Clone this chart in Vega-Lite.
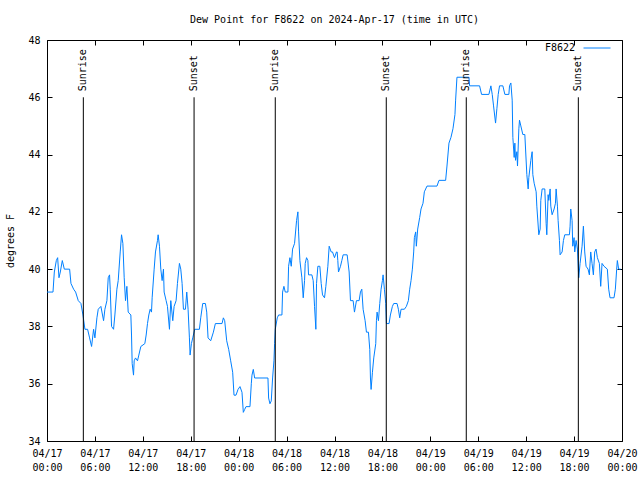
{
"$schema":"https://vega.github.io/schema/vega-lite/v6.json",
"width":575,"height":401,
"autosize":"none",
"padding":{"left":47,"top":40,"right":18,"bottom":39},
"background":"white",
"title":{"text":"Dew Point for F8622 on 2024-Apr-17 (time in UTC)","font":"DejaVu Sans Mono","fontSize":10,"fontWeight":"normal","color":"black","anchor":"middle","offset":9},
"config":{"view":{"stroke":null},"font":"DejaVu Sans Mono",
 "axis":{"grid":false,"domainColor":"black","tickColor":"black","labelColor":"black","labelFont":"DejaVu Sans Mono","labelFontSize":10,"titleFont":"DejaVu Sans Mono","titleFontSize":10,"titleFontWeight":"normal","titleColor":"black"}},
"resolve":{"axis":{"x":"independent","y":"independent"}},
"layer":[
{"data":{"values":[
{"t":"2024-04-17T00:00Z","v":39.2},{"t":"2024-04-17T00:45Z","v":39.2},{"t":"2024-04-17T00:55Z","v":39.9},{"t":"2024-04-17T01:10Z","v":40.3},{"t":"2024-04-17T01:20Z","v":40.4},{"t":"2024-04-17T01:30Z","v":39.7},{"t":"2024-04-17T01:40Z","v":39.9},{"t":"2024-04-17T01:55Z","v":40.3},{"t":"2024-04-17T02:10Z","v":40.0},{"t":"2024-04-17T02:50Z","v":40.0},
{"t":"2024-04-17T03:00Z","v":39.5},{"t":"2024-04-17T03:20Z","v":39.3},{"t":"2024-04-17T03:35Z","v":39.2},{"t":"2024-04-17T03:55Z","v":38.9},{"t":"2024-04-17T04:15Z","v":38.8},{"t":"2024-04-17T04:30Z","v":38.4},{"t":"2024-04-17T04:45Z","v":37.9},{"t":"2024-04-17T05:05Z","v":37.9},{"t":"2024-04-17T05:20Z","v":37.6},{"t":"2024-04-17T05:35Z","v":37.3},
{"t":"2024-04-17T05:50Z","v":37.9},{"t":"2024-04-17T06:00Z","v":37.6},{"t":"2024-04-17T06:15Z","v":38.3},{"t":"2024-04-17T06:25Z","v":38.6},{"t":"2024-04-17T06:45Z","v":38.7},{"t":"2024-04-17T07:05Z","v":38.2},{"t":"2024-04-17T07:15Z","v":38.6},{"t":"2024-04-17T07:30Z","v":38.9},{"t":"2024-04-17T07:40Z","v":39.7},{"t":"2024-04-17T07:50Z","v":39.8},
{"t":"2024-04-17T07:55Z","v":39.3},{"t":"2024-04-17T08:05Z","v":38.0},{"t":"2024-04-17T08:20Z","v":37.9},{"t":"2024-04-17T08:30Z","v":38.4},{"t":"2024-04-17T08:45Z","v":39.3},{"t":"2024-04-17T08:55Z","v":39.6},{"t":"2024-04-17T09:10Z","v":40.6},{"t":"2024-04-17T09:20Z","v":41.2},{"t":"2024-04-17T09:30Z","v":40.9},{"t":"2024-04-17T09:40Z","v":39.7},
{"t":"2024-04-17T09:50Z","v":38.9},{"t":"2024-04-17T10:00Z","v":39.4},{"t":"2024-04-17T10:10Z","v":38.5},{"t":"2024-04-17T10:30Z","v":38.4},{"t":"2024-04-17T10:35Z","v":37.7},{"t":"2024-04-17T10:40Z","v":36.7},{"t":"2024-04-17T10:50Z","v":36.3},{"t":"2024-04-17T10:55Z","v":36.8},{"t":"2024-04-17T11:05Z","v":36.9},{"t":"2024-04-17T11:20Z","v":36.8},
{"t":"2024-04-17T11:30Z","v":37.0},{"t":"2024-04-17T11:45Z","v":37.3},{"t":"2024-04-17T12:15Z","v":37.4},{"t":"2024-04-17T12:25Z","v":37.7},{"t":"2024-04-17T12:35Z","v":38.1},{"t":"2024-04-17T12:45Z","v":38.4},{"t":"2024-04-17T12:55Z","v":38.6},{"t":"2024-04-17T13:05Z","v":38.5},{"t":"2024-04-17T13:10Z","v":39.0},{"t":"2024-04-17T13:25Z","v":40.0},
{"t":"2024-04-17T13:35Z","v":40.6},{"t":"2024-04-17T13:50Z","v":41.0},{"t":"2024-04-17T13:55Z","v":41.2},{"t":"2024-04-17T14:05Z","v":40.8},{"t":"2024-04-17T14:15Z","v":40.0},{"t":"2024-04-17T14:25Z","v":39.6},{"t":"2024-04-17T14:35Z","v":40.0},{"t":"2024-04-17T14:40Z","v":39.2},{"t":"2024-04-17T14:55Z","v":38.9},{"t":"2024-04-17T15:05Z","v":38.7},
{"t":"2024-04-17T15:20Z","v":37.9},{"t":"2024-04-17T15:30Z","v":38.9},{"t":"2024-04-17T15:45Z","v":38.2},{"t":"2024-04-17T15:55Z","v":38.7},{"t":"2024-04-17T16:10Z","v":38.9},{"t":"2024-04-17T16:20Z","v":39.5},{"t":"2024-04-17T16:35Z","v":40.2},{"t":"2024-04-17T16:45Z","v":40.0},{"t":"2024-04-17T16:55Z","v":39.5},{"t":"2024-04-17T17:05Z","v":38.6},
{"t":"2024-04-17T17:20Z","v":38.6},{"t":"2024-04-17T17:30Z","v":39.2},{"t":"2024-04-17T17:40Z","v":38.6},{"t":"2024-04-17T17:50Z","v":37.6},{"t":"2024-04-17T17:55Z","v":37.0},{"t":"2024-04-17T18:05Z","v":37.4},{"t":"2024-04-17T18:15Z","v":37.6},{"t":"2024-04-17T18:30Z","v":37.9},{"t":"2024-04-17T19:05Z","v":37.9},{"t":"2024-04-17T19:15Z","v":38.3},
{"t":"2024-04-17T19:30Z","v":38.8},{"t":"2024-04-17T19:50Z","v":38.8},{"t":"2024-04-17T20:00Z","v":38.5},{"t":"2024-04-17T20:10Z","v":37.6},{"t":"2024-04-17T20:30Z","v":37.5},{"t":"2024-04-17T20:50Z","v":37.8},{"t":"2024-04-17T21:05Z","v":38.1},{"t":"2024-04-17T21:55Z","v":38.1},{"t":"2024-04-17T22:05Z","v":38.3},{"t":"2024-04-17T22:15Z","v":38.2},
{"t":"2024-04-17T22:30Z","v":37.5},{"t":"2024-04-17T22:45Z","v":37.2},{"t":"2024-04-17T23:00Z","v":36.8},{"t":"2024-04-17T23:15Z","v":36.4},{"t":"2024-04-17T23:25Z","v":35.6},{"t":"2024-04-17T23:40Z","v":35.6},{"t":"2024-04-17T23:55Z","v":35.8},
{"t":"2024-04-18T00:10Z","v":35.9},{"t":"2024-04-18T00:25Z","v":35.7},{"t":"2024-04-18T00:35Z","v":35.0},{"t":"2024-04-18T00:45Z","v":35.1},{"t":"2024-04-18T00:55Z","v":35.2},{"t":"2024-04-18T01:25Z","v":35.2},{"t":"2024-04-18T01:35Z","v":36.0},{"t":"2024-04-18T01:40Z","v":36.3},{"t":"2024-04-18T01:50Z","v":36.5},{"t":"2024-04-18T02:00Z","v":36.2},
{"t":"2024-04-18T03:40Z","v":36.2},{"t":"2024-04-18T03:45Z","v":35.5},{"t":"2024-04-18T03:55Z","v":35.3},{"t":"2024-04-18T04:05Z","v":35.4},{"t":"2024-04-18T04:15Z","v":36.2},{"t":"2024-04-18T04:25Z","v":36.8},{"t":"2024-04-18T04:30Z","v":37.4},{"t":"2024-04-18T04:35Z","v":37.9},{"t":"2024-04-18T04:50Z","v":38.3},{"t":"2024-04-18T05:00Z","v":38.4},
{"t":"2024-04-18T05:25Z","v":38.4},{"t":"2024-04-18T05:30Z","v":39.2},{"t":"2024-04-18T05:40Z","v":39.4},{"t":"2024-04-18T05:50Z","v":39.2},{"t":"2024-04-18T06:10Z","v":39.2},{"t":"2024-04-18T06:15Z","v":40.1},{"t":"2024-04-18T06:25Z","v":40.4},{"t":"2024-04-18T06:35Z","v":40.1},{"t":"2024-04-18T06:45Z","v":40.7},{"t":"2024-04-18T07:00Z","v":40.9},
{"t":"2024-04-18T07:15Z","v":41.7},{"t":"2024-04-18T07:25Z","v":42.0},{"t":"2024-04-18T07:30Z","v":41.3},{"t":"2024-04-18T07:40Z","v":40.3},{"t":"2024-04-18T07:55Z","v":39.7},{"t":"2024-04-18T08:05Z","v":39.0},{"t":"2024-04-18T08:15Z","v":39.6},{"t":"2024-04-18T08:20Z","v":40.2},{"t":"2024-04-18T08:30Z","v":40.4},{"t":"2024-04-18T08:40Z","v":40.3},
{"t":"2024-04-18T08:45Z","v":39.8},{"t":"2024-04-18T09:10Z","v":39.8},{"t":"2024-04-18T09:20Z","v":39.6},{"t":"2024-04-18T09:30Z","v":38.7},{"t":"2024-04-18T09:40Z","v":37.9},{"t":"2024-04-18T09:45Z","v":39.5},{"t":"2024-04-18T09:55Z","v":40.1},{"t":"2024-04-18T10:10Z","v":40.1},{"t":"2024-04-18T10:20Z","v":39.5},{"t":"2024-04-18T10:30Z","v":39.1},
{"t":"2024-04-18T10:45Z","v":39.0},{"t":"2024-04-18T10:55Z","v":39.4},{"t":"2024-04-18T11:10Z","v":40.1},{"t":"2024-04-18T11:20Z","v":40.8},{"t":"2024-04-18T11:35Z","v":40.6},{"t":"2024-04-18T11:45Z","v":40.6},{"t":"2024-04-18T12:00Z","v":40.4},{"t":"2024-04-18T12:15Z","v":40.6},{"t":"2024-04-18T12:20Z","v":40.6},{"t":"2024-04-18T12:25Z","v":40.3},
{"t":"2024-04-18T12:30Z","v":39.9},{"t":"2024-04-18T12:45Z","v":40.1},{"t":"2024-04-18T12:55Z","v":40.3},{"t":"2024-04-18T13:05Z","v":40.5},{"t":"2024-04-18T13:35Z","v":40.5},{"t":"2024-04-18T13:50Z","v":39.9},{"t":"2024-04-18T14:00Z","v":38.9},{"t":"2024-04-18T14:20Z","v":38.9},{"t":"2024-04-18T14:30Z","v":38.5},{"t":"2024-04-18T14:45Z","v":38.9},
{"t":"2024-04-18T15:05Z","v":38.9},{"t":"2024-04-18T15:15Z","v":39.2},{"t":"2024-04-18T15:25Z","v":39.3},{"t":"2024-04-18T15:35Z","v":38.6},{"t":"2024-04-18T15:50Z","v":38.2},{"t":"2024-04-18T16:00Z","v":37.8},{"t":"2024-04-18T16:15Z","v":37.8},{"t":"2024-04-18T16:25Z","v":37.2},{"t":"2024-04-18T16:30Z","v":36.2},{"t":"2024-04-18T16:35Z","v":35.8},
{"t":"2024-04-18T16:45Z","v":36.4},{"t":"2024-04-18T16:55Z","v":36.9},{"t":"2024-04-18T17:10Z","v":37.4},{"t":"2024-04-18T17:15Z","v":38.2},{"t":"2024-04-18T17:20Z","v":38.5},{"t":"2024-04-18T17:30Z","v":38.2},{"t":"2024-04-18T17:40Z","v":38.8},{"t":"2024-04-18T17:50Z","v":39.3},{"t":"2024-04-18T18:00Z","v":39.6},{"t":"2024-04-18T18:05Z","v":39.8},
{"t":"2024-04-18T18:15Z","v":39.3},{"t":"2024-04-18T18:25Z","v":38.8},{"t":"2024-04-18T18:30Z","v":38.1},{"t":"2024-04-18T18:50Z","v":38.1},{"t":"2024-04-18T19:00Z","v":38.4},{"t":"2024-04-18T19:15Z","v":38.7},{"t":"2024-04-18T19:25Z","v":38.8},{"t":"2024-04-18T19:50Z","v":38.8},{"t":"2024-04-18T20:00Z","v":38.6},{"t":"2024-04-18T20:10Z","v":38.3},
{"t":"2024-04-18T20:20Z","v":38.6},{"t":"2024-04-18T20:45Z","v":38.6},{"t":"2024-04-18T21:00Z","v":38.7},{"t":"2024-04-18T21:15Z","v":38.9},{"t":"2024-04-18T21:25Z","v":39.3},{"t":"2024-04-18T21:35Z","v":39.6},{"t":"2024-04-18T21:45Z","v":40.0},{"t":"2024-04-18T21:55Z","v":40.6},{"t":"2024-04-18T22:00Z","v":41.1},{"t":"2024-04-18T22:10Z","v":41.3},
{"t":"2024-04-18T22:15Z","v":40.8},{"t":"2024-04-18T22:25Z","v":41.4},{"t":"2024-04-18T22:40Z","v":41.8},{"t":"2024-04-18T22:50Z","v":42.1},{"t":"2024-04-18T23:05Z","v":42.3},{"t":"2024-04-18T23:15Z","v":42.7},{"t":"2024-04-18T23:35Z","v":42.9},
{"t":"2024-04-19T00:50Z","v":42.9},{"t":"2024-04-19T01:05Z","v":43.1},{"t":"2024-04-19T01:55Z","v":43.1},{"t":"2024-04-19T02:05Z","v":43.6},{"t":"2024-04-19T02:20Z","v":44.4},{"t":"2024-04-19T02:35Z","v":44.6},{"t":"2024-04-19T02:50Z","v":44.9},{"t":"2024-04-19T03:05Z","v":45.4},{"t":"2024-04-19T03:10Z","v":45.9},{"t":"2024-04-19T03:20Z","v":46.7},
{"t":"2024-04-19T04:50Z","v":46.7},{"t":"2024-04-19T04:55Z","v":46.4},{"t":"2024-04-19T06:10Z","v":46.4},{"t":"2024-04-19T06:25Z","v":46.1},{"t":"2024-04-19T07:20Z","v":46.1},{"t":"2024-04-19T07:35Z","v":46.4},{"t":"2024-04-19T07:45Z","v":46.1},{"t":"2024-04-19T07:55Z","v":45.7},{"t":"2024-04-19T08:10Z","v":45.1},{"t":"2024-04-19T08:20Z","v":45.6},
{"t":"2024-04-19T08:30Z","v":46.1},{"t":"2024-04-19T08:40Z","v":46.4},{"t":"2024-04-19T09:05Z","v":46.4},{"t":"2024-04-19T09:20Z","v":46.1},{"t":"2024-04-19T09:50Z","v":46.1},{"t":"2024-04-19T09:55Z","v":46.4},{"t":"2024-04-19T10:05Z","v":46.5},{"t":"2024-04-19T10:15Z","v":45.9},{"t":"2024-04-19T10:20Z","v":44.6},{"t":"2024-04-19T10:30Z","v":43.9},
{"t":"2024-04-19T10:35Z","v":44.4},{"t":"2024-04-19T10:40Z","v":43.8},{"t":"2024-04-19T10:50Z","v":44.1},{"t":"2024-04-19T10:55Z","v":43.6},{"t":"2024-04-19T11:05Z","v":44.9},{"t":"2024-04-19T11:10Z","v":45.2},{"t":"2024-04-19T11:20Z","v":45.0},{"t":"2024-04-19T11:35Z","v":44.7},{"t":"2024-04-19T11:50Z","v":44.7},{"t":"2024-04-19T12:05Z","v":43.3},
{"t":"2024-04-19T12:15Z","v":42.8},{"t":"2024-04-19T12:20Z","v":43.2},{"t":"2024-04-19T12:35Z","v":43.8},{"t":"2024-04-19T12:45Z","v":44.1},{"t":"2024-04-19T12:50Z","v":43.3},{"t":"2024-04-19T13:00Z","v":43.0},{"t":"2024-04-19T13:15Z","v":42.7},{"t":"2024-04-19T13:20Z","v":42.2},{"t":"2024-04-19T13:35Z","v":41.2},{"t":"2024-04-19T13:45Z","v":41.4},
{"t":"2024-04-19T13:50Z","v":42.4},{"t":"2024-04-19T14:00Z","v":42.8},{"t":"2024-04-19T14:20Z","v":42.8},{"t":"2024-04-19T14:30Z","v":41.6},{"t":"2024-04-19T14:35Z","v":41.2},{"t":"2024-04-19T14:45Z","v":42.6},{"t":"2024-04-19T14:50Z","v":42.4},{"t":"2024-04-19T15:00Z","v":42.8},{"t":"2024-04-19T15:05Z","v":42.2},{"t":"2024-04-19T15:15Z","v":41.9},
{"t":"2024-04-19T15:30Z","v":42.1},{"t":"2024-04-19T15:40Z","v":42.3},{"t":"2024-04-19T15:45Z","v":42.8},{"t":"2024-04-19T15:55Z","v":42.2},{"t":"2024-04-19T16:00Z","v":41.7},{"t":"2024-04-19T16:10Z","v":41.0},{"t":"2024-04-19T16:15Z","v":40.5},{"t":"2024-04-19T16:30Z","v":40.6},{"t":"2024-04-19T16:40Z","v":41.0},{"t":"2024-04-19T16:50Z","v":41.2},
{"t":"2024-04-19T17:25Z","v":41.2},{"t":"2024-04-19T17:30Z","v":41.5},{"t":"2024-04-19T17:35Z","v":42.1},{"t":"2024-04-19T17:45Z","v":41.7},{"t":"2024-04-19T17:50Z","v":40.8},{"t":"2024-04-19T18:00Z","v":41.1},{"t":"2024-04-19T18:05Z","v":40.6},{"t":"2024-04-19T18:15Z","v":41.0},{"t":"2024-04-19T18:25Z","v":40.7},{"t":"2024-04-19T18:35Z","v":39.7},
{"t":"2024-04-19T18:45Z","v":40.2},{"t":"2024-04-19T19:00Z","v":40.8},{"t":"2024-04-19T19:10Z","v":41.5},{"t":"2024-04-19T19:20Z","v":40.6},{"t":"2024-04-19T19:30Z","v":40.1},{"t":"2024-04-19T19:45Z","v":40.0},{"t":"2024-04-19T19:55Z","v":39.8},{"t":"2024-04-19T20:05Z","v":40.6},{"t":"2024-04-19T20:15Z","v":40.2},{"t":"2024-04-19T20:25Z","v":39.8},
{"t":"2024-04-19T20:35Z","v":40.6},{"t":"2024-04-19T20:45Z","v":40.7},{"t":"2024-04-19T20:55Z","v":40.4},{"t":"2024-04-19T21:10Z","v":40.2},{"t":"2024-04-19T21:20Z","v":39.4},{"t":"2024-04-19T21:30Z","v":40.2},{"t":"2024-04-19T21:45Z","v":40.1},{"t":"2024-04-19T22:10Z","v":40.0},{"t":"2024-04-19T22:20Z","v":39.3},{"t":"2024-04-19T22:30Z","v":39.0},
{"t":"2024-04-19T23:00Z","v":39.0},{"t":"2024-04-19T23:10Z","v":39.3},{"t":"2024-04-19T23:20Z","v":40.0},{"t":"2024-04-19T23:25Z","v":40.3},{"t":"2024-04-19T23:35Z","v":40.0},{"t":"2024-04-19T23:50Z","v":40.0}
]},
"mark":{"type":"line","strokeWidth":1},
"encoding":{
"x":{"field":"t","type":"temporal","scale":{"type":"utc","domain":[{"year":2024,"month":4,"date":17,"hours":0,"utc":true},{"year":2024,"month":4,"date":20,"hours":0,"utc":true}],"nice":false},
 "axis":{"orient":"bottom","title":null,"tickSize":-5,"labelPadding":12,
 "labelExpr":"[utcFormat(datum.value, '%m/%d'), utcFormat(datum.value, '%H:%M')]",
 "labelOverlap":false,"labelFlush":false,"labelLineHeight":14}},
"y":{"field":"v","type":"quantitative","scale":{"domain":[34,48],"nice":false,"zero":false},
 "axis":{"orient":"left","title":"degrees F","values":[34,36,38,40,42,44,46,48],"tickSize":-5,"labelPadding":12,"titlePadding":12}},
"color":{"datum":"F8622","type":"nominal","scale":{"range":["#0080ff"]},
 "legend":{"orient":"none","legendX":536,"legendY":-6,"title":null,"symbolType":"stroke","symbolSize":729,"symbolStrokeWidth":1,"labelAlign":"right","labelOffset":-36,"labelFont":"DejaVu Sans Mono","labelFontSize":10,"labelColor":"black","padding":0}}
}},
{"data":{"values":[
{"t":"2024-04-17T04:33Z","e":"Sunrise"},{"t":"2024-04-17T18:25Z","e":"Sunset"},{"t":"2024-04-18T04:35Z","e":"Sunrise"},{"t":"2024-04-18T18:29Z","e":"Sunset"},{"t":"2024-04-19T04:30Z","e":"Sunrise"},{"t":"2024-04-19T18:32Z","e":"Sunset"}]},
"mark":{"type":"rule","color":"black","strokeWidth":1},
"encoding":{
"x":{"field":"t","type":"temporal","axis":{"orient":"top","title":null,"labels":false,"tickSize":-5}},
"y":{"datum":34,"type":"quantitative","axis":{"orient":"right","title":null,"labels":false,"values":[34,36,38,40,42,44,46,48],"tickSize":-5}},
"y2":{"datum":46}
}},
{"data":{"values":[
{"t":"2024-04-17T04:33Z","e":"Sunrise"},{"t":"2024-04-17T18:25Z","e":"Sunset"},{"t":"2024-04-18T04:35Z","e":"Sunrise"},{"t":"2024-04-18T18:29Z","e":"Sunset"},{"t":"2024-04-19T04:30Z","e":"Sunrise"},{"t":"2024-04-19T18:32Z","e":"Sunset"}]},
"mark":{"type":"text","angle":270,"align":"left","baseline":"middle","dx":6,"font":"DejaVu Sans Mono","fontSize":10,"color":"black"},
"encoding":{
"x":{"field":"t","type":"temporal","axis":null},
"y":{"datum":46,"type":"quantitative","axis":null},
"text":{"field":"e","type":"nominal"}
}}
]
}
